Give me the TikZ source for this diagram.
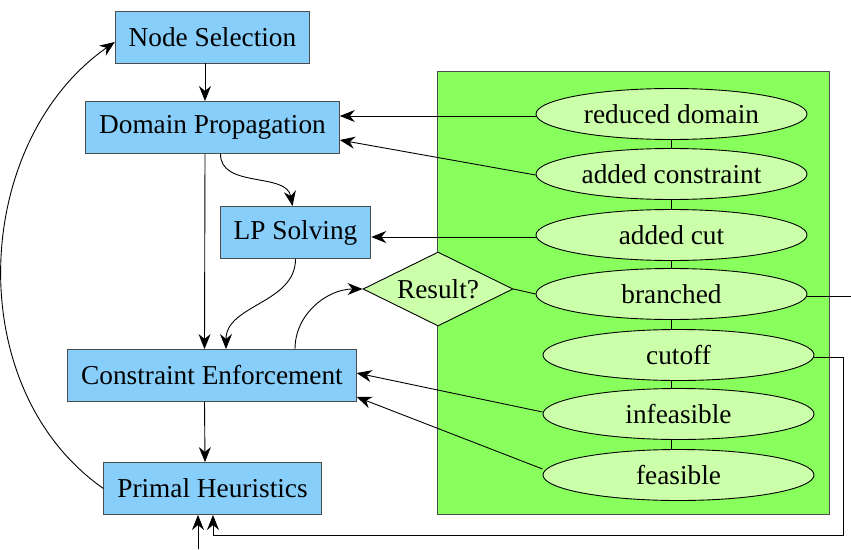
\documentclass[tikz,border=0pt]{standalone}
\usepackage{fontspec}
\setmainfont{Liberation Serif}
\usetikzlibrary{shapes.geometric,arrows.meta}
\definecolor{boxblue}{RGB}{135,206,250}
\definecolor{resultgreen}{RGB}{204,255,170}
\definecolor{clustergreen}{RGB}{136,255,92}
\newcommand{\labelfont}{\fontsize{27.3}{32}\selectfont}
\begin{document}
\begin{tikzpicture}[x=1pt,y=1pt,line width=0.9pt,
    stage/.style={shape=rectangle,draw=black!70,fill=boxblue,inner xsep=13.5pt,minimum height=52pt,font=\labelfont},
    outcome/.style={shape=ellipse,draw,fill=resultgreen,inner sep=0pt,minimum width=271pt,minimum height=51pt,font=\labelfont},
    query/.style={shape=diamond,draw,fill=resultgreen,inner sep=0pt,aspect=2,minimum width=150pt,minimum height=74pt,font=\labelfont},
    arr/.style={-{Stealth[length=15pt,width=12pt]}}]
    \useasboundingbox (0,0) rectangle (851,-549);%
    \node[shape=rectangle,draw=black!70,fill=clustergreen,inner sep=0pt,minimum width=392pt,minimum height=443pt] (R) at (633,-292.5) {};%
    \node[stage] (NS) at (212.5,-37) {Node Selection};%
    \node[stage] (DP) at (212.5,-127.5) {Domain Propagation};%
    \node[stage] (LP) at (295.5,-232.5) {LP Solving};%
    \node[stage] (CE) at (212,-375.5) {Constraint Enforcement};%
    \node[stage] (PH) at (212.5,-488.5) {Primal Heuristics};%
    \node[query] (Q) at (438,-289) {Result?};%
    \node[outcome] (RD) at (671.5,-114) {reduced domain};%
    \node[outcome] (AC) at (671.5,-174) {added constraint};%
    \node[outcome] (CU) at (671.5,-235) {added cut};%
    \node[outcome] (BR) at (671.5,-294) {branched};%
    \node[outcome] (CO) at (678.5,-355) {cutoff};%
    \node[outcome] (IN) at (678.5,-414) {infeasible};%
    \node[outcome] (FE) at (678.5,-475) {feasible};%
    \coordinate (loopcorner) at (843,-535);%
    \coordinate (incoming) at (198,-549);%
    \coordinate (branchout) at (851,-296);%

    \draw[arr] ([xshift=-7.5pt]NS.south) to ([xshift=-7.5pt]DP.north);%
    \draw[arr] ([xshift=-7.5pt]DP.south) to ([xshift=-7.5pt]CE.north);%
    \draw[arr] ([xshift=-7.5pt]CE.south) to ([xshift=-7.5pt]PH.north);%
    \draw[arr] ([xshift=8pt]DP.south) to[out=-90,in=100] ([xshift=-3pt]LP.north);%
    \draw[arr] (LP.south) to[out=-90,in=90] ([xshift=14pt]CE.north);%
    \draw[arr] ([xshift=83pt]CE.north) to[out=90,in=180] (Q.west);%
    \draw[arr] (PH.west) to[out=145,in=215] ([yshift=-5pt]NS.west);%
    \draw[-] (Q.east) to (BR.west);%
    \draw[-] (RD.south) to (AC.north);%
    \draw[-] (AC.south) to (CU.north);%
    \draw[-] (CU.south) to (BR.north);%
    \draw[-] (BR.south) to (BR.south |- CO.north);%
    \draw[-] (BR.south |- CO.south) to (BR.south |- IN.north);%
    \draw[-] (BR.south |- IN.south) to (BR.south |- FE.north);%
    \draw[arr] ([yshift=-2pt]RD.west) to ([yshift=-2pt]RD.west -| DP.east);%
    \draw[arr] ([yshift=-1pt]AC.west) to ([yshift=-12.5pt]DP.east);%
    \draw[arr] ([yshift=-2pt]CU.west) to ([yshift=-2pt]CU.west -| LP.east);%
    \draw[arr] ([yshift=2pt]IN.west) to ([yshift=2.5pt]CE.east);%
    \draw[arr] ([yshift=6pt]FE.west) to ([yshift=-21.5pt]CE.east);%
    \draw[-] ([yshift=-2pt]BR.east) to ([yshift=-2pt]BR.east -| branchout);%
    \draw[arr] ([yshift=-2pt]CO.east) -| (loopcorner) -| ([xshift=0.5pt]PH.south);%
    \draw[arr] (incoming) to (incoming |- PH.south);%
\end{tikzpicture}
\end{document}
